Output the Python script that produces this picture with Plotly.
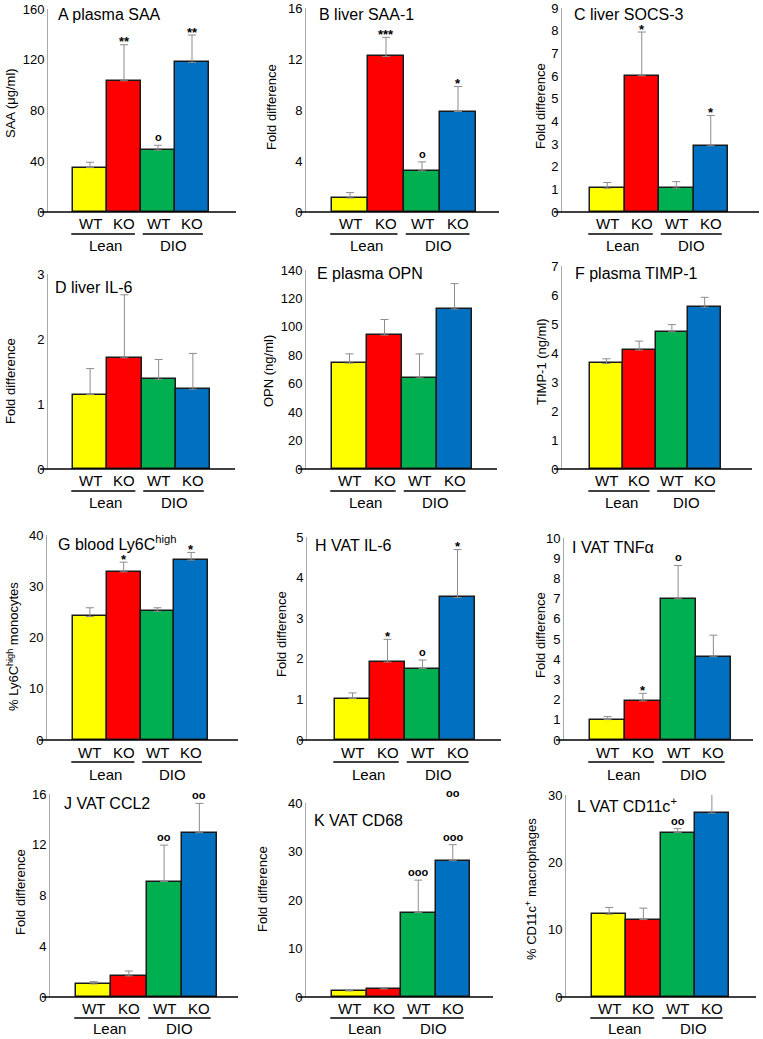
import plotly.graph_objects as go

W, H = 763, 1039
FONT = "Arial, Liberation Sans, Helvetica, sans-serif"

# ---------------- data ----------------
groups = ["WT", "KO", "WT", "KO"]
cohorts = ["Lean", "DIO"]
colors = ["#FFFF00", "#FF0000", "#00B050", "#0070C0"]

A_title = "A plasma SAA"
A_ytitle = "SAA (μg/ml)"
A_vals = [35.0, 103.4, 48.7, 117.9]
A_err = [4.2, 28.4, 3.9, 21.6]
A_ticks = [0, 40, 80, 120, 160]
A_sig = ["", "**", "o", "**"]

B_title = "B liver SAA-1"
B_ytitle = "Fold difference"
B_vals = [1.1, 12.2, 3.22, 7.88]
B_err = [0.42, 1.5, 0.71, 1.96]
B_ticks = [0, 4, 8, 12, 16]
B_sig = ["", "***", "o", "*"]

C_title = "C liver SOCS-3"
C_ytitle = "Fold difference"
C_vals = [1.05, 6.01, 1.05, 2.92]
C_err = [0.25, 1.93, 0.29, 1.34]
C_ticks = [0, 1, 2, 3, 4, 5, 6, 7, 8, 9]
C_sig = ["", "*", "", "*"]

D_title = "D liver IL-6"
D_ytitle = "Fold difference"
D_vals = [1.145, 1.71, 1.38, 1.228]
D_err = [0.40, 0.97, 0.305, 0.55]
D_ticks = [0, 1, 2, 3]
D_sig = ["", "", "", ""]

E_title = "E plasma OPN"
E_ytitle = "OPN (ng/ml)"
E_vals = [74.5, 94.2, 64.1, 112.5]
E_err = [6.5, 11.0, 16.9, 17.9]
E_ticks = [0, 20, 40, 60, 80, 100, 120, 140]
E_sig = ["", "", "", ""]

F_title = "F plasma TIMP-1"
F_ytitle = "TIMP-1 (ng/ml)"
F_vals = [3.64, 4.10, 4.73, 5.58]
F_err = [0.16, 0.31, 0.25, 0.34]
F_ticks = [0, 1, 2, 3, 4, 5, 6, 7]
F_sig = ["", "", "", ""]

G_title = "G blood Ly6C<sup>high</sup>"
G_ytitle = "% Ly6C<sup>high</sup> monocytes"
G_vals = [24.1, 32.8, 25.1, 35.1]
G_err = [1.7, 1.9, 0.7, 1.5]
G_ticks = [0, 10, 20, 30, 40]
G_sig = ["", "*", "", "*"]

H_title = "H VAT IL-6"
H_ytitle = "Fold difference"
H_vals = [1.02, 1.92, 1.76, 3.51]
H_err = [0.14, 0.56, 0.21, 1.18]
H_ticks = [0, 1, 2, 3, 4, 5]
H_sig = ["", "*", "o", "*"]

I_title = "I VAT TNFα"
I_ytitle = "Fold difference"
I_vals = [1.01, 1.93, 6.99, 4.12]
I_err = [0.15, 0.38, 1.65, 1.07]
I_ticks = [0, 1, 2, 3, 4, 5, 6, 7, 8, 9, 10]
I_sig = ["", "*", "o", ""]

J_title = "J VAT CCL2"
J_ytitle = "Fold difference"
J_vals = [1.03, 1.66, 9.1, 12.95]
J_err = [0.18, 0.39, 2.87, 2.31]
J_ticks = [0, 4, 8, 12, 16]
J_sig = ["", "", "oo", "oo"]

K_title = "K VAT CD68"
K_ytitle = "Fold difference"
K_vals = [1.24, 1.66, 17.4, 28.1]
K_err = [0.14, 0.27, 6.7, 3.3]
K_ticks = [0, 10, 20, 30, 40]
K_sig = ["", "", "ooo", "ooo"]
K_sig_extra = ["", "", "", "oo"]

L_title = "L VAT CD11c<sup>+</sup>"
L_ytitle = "% CD11c<sup>+</sup> macrophages"
L_vals = [12.3, 11.5, 24.4, 27.3]
L_err = [1.0, 1.7, 0.6, 3.2]
L_ticks = [0, 10, 20, 30]
L_sig = ["", "", "oo", ""]

# ---------------- layout geometry (pixels) ----------------
BOX = {
    "A": dict(L=48, R=236, zero=212, top=9, b0=73, b1=209, ytx=11, yty=103, tx=56, ty=15),
    "B": dict(L=306, R=499, zero=212, top=8, b0=332, b1=476, ytx=272, yty=107, tx=317, ty=15),
    "C": dict(L=562, R=759, zero=212, top=8, b0=590, b1=728, ytx=541, yty=106, tx=572, ty=15),
    "D": dict(L=48, R=235, zero=469, top=274, b0=73, b1=210, ytx=10, yty=381, tx=53, ty=287),
    "E": dict(L=306, R=497, zero=469, top=270, b0=332, b1=472, ytx=268, yty=371, tx=315, ty=273),
    "F": dict(L=562, R=752, zero=469, top=266, b0=590, b1=721, ytx=541, yty=362, tx=573, ty=274),
    "G": dict(L=47, R=238, zero=740, top=535, b0=73, b1=208, ytx=13, yty=647, tx=56, ty=543),
    "H": dict(L=307, R=501, zero=740, top=537, b0=335, b1=475, ytx=281, yty=634, tx=313, ty=545),
    "I": dict(L=564, R=753, zero=740, top=538, b0=590, b1=731, ytx=540, yty=635, tx=570, ty=547),
    "J": dict(L=50, R=238, zero=997, top=794, b0=76, b1=217, ytx=20, yty=892, tx=62, ty=803),
    "K": dict(L=306, R=493, zero=997, top=803, b0=332, b1=470, ytx=262, yty=889, tx=312, ty=820),
    "L": dict(L=566, R=756, zero=997, top=795, b0=592, b1=729, ytx=531, yty=889, tx=575, ty=805),
}

panels = [
    ("A", A_title, A_ytitle, A_vals, A_err, A_ticks, A_sig, None),
    ("B", B_title, B_ytitle, B_vals, B_err, B_ticks, B_sig, None),
    ("C", C_title, C_ytitle, C_vals, C_err, C_ticks, C_sig, None),
    ("D", D_title, D_ytitle, D_vals, D_err, D_ticks, D_sig, None),
    ("E", E_title, E_ytitle, E_vals, E_err, E_ticks, E_sig, None),
    ("F", F_title, F_ytitle, F_vals, F_err, F_ticks, F_sig, None),
    ("G", G_title, G_ytitle, G_vals, G_err, G_ticks, G_sig, None),
    ("H", H_title, H_ytitle, H_vals, H_err, H_ticks, H_sig, None),
    ("I", I_title, I_ytitle, I_vals, I_err, I_ticks, I_sig, None),
    ("J", J_title, J_ytitle, J_vals, J_err, J_ticks, J_sig, None),
    ("K", K_title, K_ytitle, K_vals, K_err, K_ticks, K_sig, K_sig_extra),
    ("L", L_title, L_ytitle, L_vals, L_err, L_ticks, L_sig, None),
]

fig = go.Figure()
annotations = []
shapes = []
layout_axes = {}

for n, (key, title, ytitle, vals, err, ticks, sig, sig2) in enumerate(panels, start=1):
    b = BOX[key]
    xa = "x" if n == 1 else f"x{n}"
    ya = "y" if n == 1 else f"y{n}"
    xname = "xaxis" if n == 1 else f"xaxis{n}"
    yname = "yaxis" if n == 1 else f"yaxis{n}"
    bw = (b["b1"] - b["b0"]) / 4.0
    x_lo = -0.5 - (b["b0"] - b["L"]) / bw
    x_hi = 3.5 + (b["R"] - b["b1"]) / bw
    row4 = b["zero"] > 900
    off_lab, off_line, off_grp = (11, 21, 31) if row4 else (12, 22, 34)

    def xpaper(xd, b=b, x_lo=x_lo, x_hi=x_hi):
        return (b["L"] + (xd - x_lo) / (x_hi - x_lo) * (b["R"] - b["L"])) / W

    xs = list(range(len(vals)))
    fig.add_trace(go.Bar(
        x=xs, y=vals, width=1.0,
        marker=dict(color=colors, line=dict(color="#1a1a1a", width=1.5)),
        error_y=dict(type="data", array=err, arrayminus=[0] * len(err), symmetric=False,
                     color="#8c8c8c", thickness=1, width=4),
        xaxis=xa, yaxis=ya, showlegend=False, hoverinfo="y",
    ))

    layout_axes[xname] = dict(
        domain=[b["L"] / W, b["R"] / W], range=[x_lo, x_hi], anchor=ya,
        showline=False, showgrid=False, zeroline=False, showticklabels=False, ticks="",
        fixedrange=True,
    )
    layout_axes[yname] = dict(
        domain=[1 - b["zero"] / H, 1 - b["top"] / H], range=[0, ticks[-1]], anchor=xa,
        showline=True, linecolor="#a8a8a8", linewidth=1, showgrid=False, zeroline=False,
        tickvals=ticks, ticktext=[str(t) for t in ticks], ticks="",
        tickfont=dict(family=FONT, size=13, color="black"), fixedrange=True,
    )

    # baseline (extends a bit left of the y axis)
    yb = 1 - b["zero"] / H
    shapes.append(dict(type="line", xref="paper", yref="paper",
                       x0=(b["L"] - 8) / W, x1=b["R"] / W, y0=yb, y1=yb,
                       line=dict(color="black", width=1.5), layer="above"))

    # panel title
    annotations.append(dict(text=title, xref="paper", yref="paper", x=b["tx"] / W, y=1 - b["ty"] / H,
                            xanchor="left", yanchor="middle", showarrow=False,
                            font=dict(family=FONT, size=16, color="black")))
    # y-axis title
    annotations.append(dict(text=ytitle, xref="paper", yref="paper", x=b["ytx"] / W, y=1 - b["yty"] / H,
                            xanchor="center", yanchor="middle", textangle=-90, showarrow=False,
                            font=dict(family=FONT, size=13, color="black")))
    # group labels
    for i, g in enumerate(groups):
        annotations.append(dict(text=g, xref=xa, yref=ya, x=i, y=0, yshift=-off_lab,
                                xanchor="center", yanchor="middle", showarrow=False,
                                font=dict(family=FONT, size=15, color="black")))
    # cohort labels + underline
    for j, c in enumerate(cohorts):
        cx = 0.45 + 2 * j
        annotations.append(dict(text=c, xref=xa, yref=ya, x=cx, y=0, yshift=-off_grp,
                                xanchor="center", yanchor="middle", showarrow=False,
                                font=dict(family=FONT, size=15, color="black")))
        x0, x1 = (-0.55, 1.32) if j == 0 else (1.55, 3.32)
        yl = 1 - (b["zero"] + off_line) / H
        shapes.append(dict(type="line", xref="paper", yref="paper",
                           x0=xpaper(x0), x1=xpaper(x1), y0=yl, y1=yl,
                           line=dict(color="black", width=1.5)))
    # significance marks
    for i, s in enumerate(sig):
        if not s:
            continue
        star = "*" in s
        annotations.append(dict(text=f"<b>{s}</b>", xref=xa, yref=ya, x=i, y=vals[i] + err[i],
                                yshift=3 if star else 8, xanchor="center", yanchor="middle",
                                showarrow=False,
                                font=dict(family=FONT, size=13 if star else 11, color="black")))
    if sig2:
        for i, s in enumerate(sig2):
            if not s:
                continue
            annotations.append(dict(text=f"<b>{s}</b>", xref=xa, yref=ya, x=i, y=vals[i] + err[i],
                                    yshift=52, xanchor="center", yanchor="middle", showarrow=False,
                                    font=dict(family=FONT, size=11, color="black")))

fig.update_layout(
    width=W, height=H,
    margin=dict(l=0, r=0, t=0, b=0, autoexpand=False),
    paper_bgcolor="white", plot_bgcolor="white",
    bargap=0, showlegend=False,
    font=dict(family=FONT, color="black"),
    annotations=annotations, shapes=shapes,
    **layout_axes,
)

fig.write_html("out.html", config={"displayModeBar": False},
               post_script="document.body.style.margin='0';document.body.style.padding='0';")
